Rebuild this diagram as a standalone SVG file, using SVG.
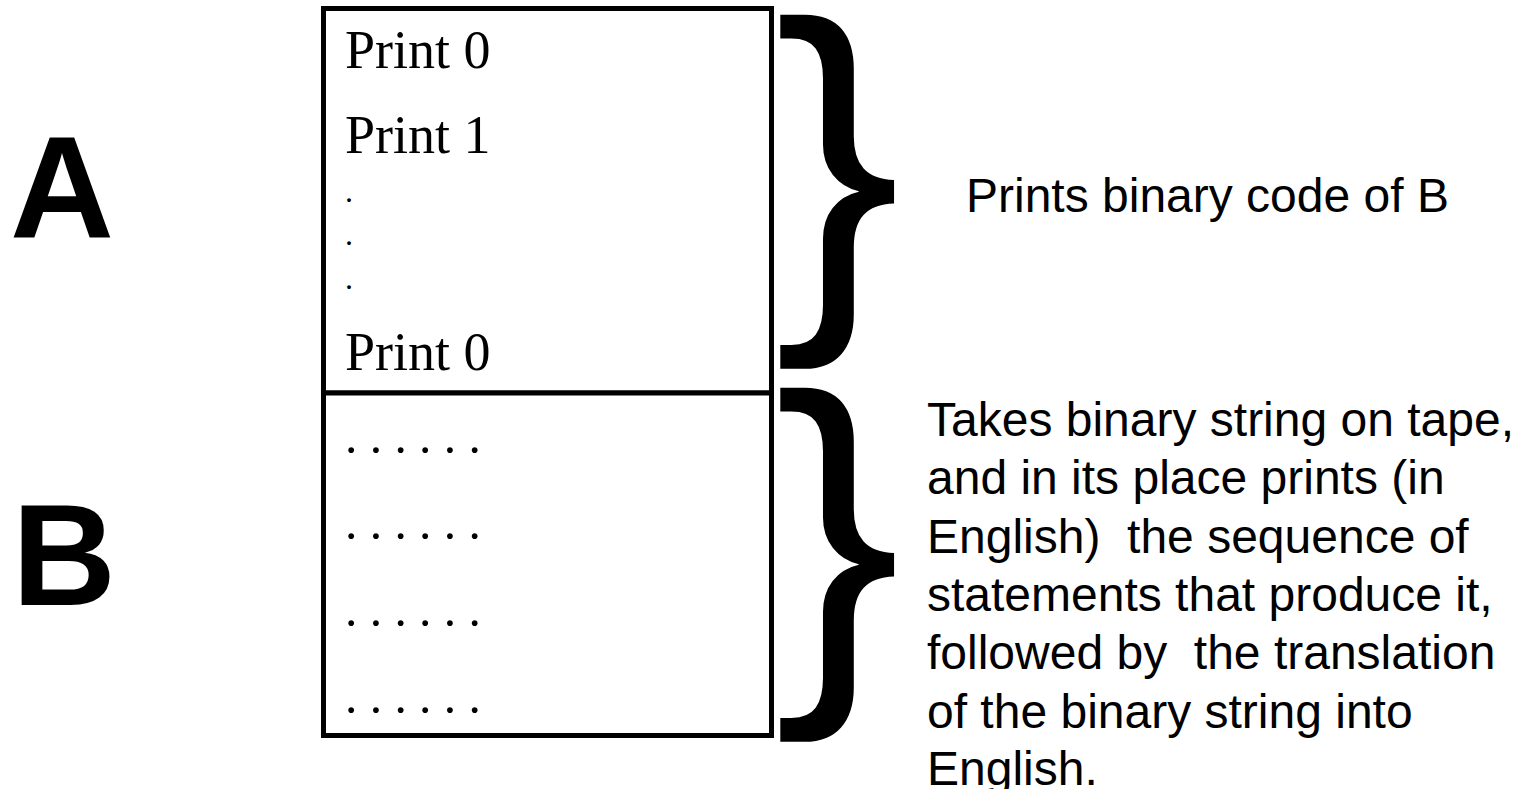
<svg xmlns="http://www.w3.org/2000/svg" width="1535" height="789" viewBox="0 0 1535 789">
<style>
.lbl{font-family:"Liberation Sans",Arial,sans-serif;font-weight:bold;font-size:144px;fill:#000}
.stmt{font-family:"Liberation Serif","Times New Roman",serif;font-size:54px;fill:#000}
.sdot{font-family:"Liberation Serif","Times New Roman",serif;font-size:32px;fill:#000}
.bdot{font-family:"Liberation Serif","Times New Roman",serif;font-size:49.4px;fill:#000}
.brace{font-family:"Liberation Sans",Arial,sans-serif;font-size:380px;fill:#000}
.desc{font-family:"Liberation Sans",Arial,sans-serif;font-size:48px;fill:#000}
.box{fill:#fff;stroke:#000;stroke-width:5}
</style>
<rect width="1535" height="789" fill="#fff"/>
<g id="label-A"><text class="lbl" x="10" y="237">A</text></g>
<g id="label-B"><text class="lbl" x="12" y="605">B</text></g>
<g id="box-A">
<rect class="box" x="323.5" y="8.5" width="448" height="384.5"/>
<text class="stmt" x="345" y="68">Print 0</text>
<text class="stmt" x="345" y="153">Print 1</text>
<text class="sdot" x="345" y="201.5">.</text>
<text class="sdot" x="345" y="244.5">.</text>
<text class="sdot" x="345" y="288.5">.</text>
<text class="stmt" x="345" y="370">Print 0</text>
</g>
<g id="box-B">
<rect class="box" x="323.5" y="393" width="448" height="342.5"/>
<text class="bdot" x="345" y="453">. . . . . .</text>
<text class="bdot" x="345" y="539">. . . . . .</text>
<text class="bdot" x="345" y="626">. . . . . .</text>
<text class="bdot" x="345" y="713">. . . . . .</text>
</g>
<g id="brace-A"><text class="brace" x="774" y="290">}</text></g>
<g id="brace-B"><text class="brace" x="774" y="663">}</text></g>
<g id="desc-A"><text class="desc" x="966" y="212" font-size="46.5">Prints binary code of B</text></g>
<g id="desc-B">
<text class="desc" x="927" y="436">Takes binary string on tape,</text>
<text class="desc" x="927" y="494.3">and in its place prints (in</text>
<text class="desc" x="927" y="552.7" xml:space="preserve">English)  the sequence of</text>
<text class="desc" x="927" y="611">statements that produce it,</text>
<text class="desc" x="927" y="669.3" xml:space="preserve">followed by  the translation</text>
<text class="desc" x="927" y="727.7">of the binary string into</text>
<text class="desc" x="927" y="785">English.</text>
</g>
<g id="connectors"/>
</svg>
